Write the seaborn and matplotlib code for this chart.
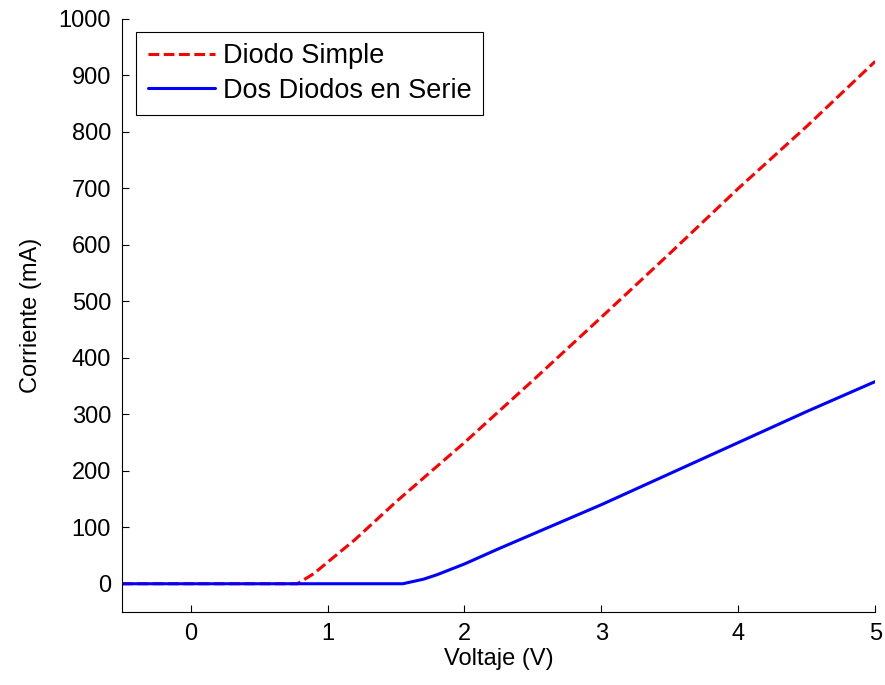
import seaborn as sns
import matplotlib.pyplot as plt
import pandas as pd

# datos
v_simple = [-0.5, 0.78, 0.9, 1.0, 1.2, 1.5, 2.0, 2.5, 3.0, 3.5, 4.0, 4.5, 5.0]
i_simple = [0, 0, 18, 38, 78, 145, 250, 360, 472, 585, 700, 810, 925]
v_serie = [-0.5, 1.55, 1.7, 1.8, 2.0, 2.25, 2.5, 3.0, 3.5, 4.0, 4.5, 5.0]
i_serie = [0, 0, 8, 16, 35, 62, 88, 140, 195, 250, 305, 358]
labels = ['Diodo Simple', 'Dos Diodos en Serie']

df = pd.concat([
    pd.DataFrame({'V': v_simple, 'I': i_simple, 'curva': labels[0]}),
    pd.DataFrame({'V': v_serie, 'I': i_serie, 'curva': labels[1]}),
])

sns.set_style('ticks')
plt.rcParams['font.family'] = ['Liberation Sans', 'DejaVu Sans']
plt.rcParams['font.size'] = 17
plt.rcParams['text.color'] = 'black'
plt.rcParams['axes.labelcolor'] = 'black'
plt.rcParams['xtick.color'] = 'black'
plt.rcParams['ytick.color'] = 'black'

fig = plt.figure(figsize=(8.85, 6.85), dpi=100)
ax = fig.add_axes([0.138, 0.1066, 0.851, 0.8657])
sns.lineplot(data=df, x='V', y='I', hue='curva', style='curva',
             palette=['#ff0000', '#0000ff'], dashes=[(3.5, 1.5), ''],
             linewidth=2.2, sort=False, estimator=None, ax=ax)

ax.set_xlim(-0.5, 5)
ax.set_ylim(-50, 1000)
ax.set_xticks([0, 1, 2, 3, 4, 5])
ax.set_yticks(range(0, 1001, 100))
ax.tick_params(direction='in', length=5, width=0.8, labelsize=17, pad=8)
for s in ['top', 'right']:
    ax.spines[s].set_visible(False)
for s in ['left', 'bottom']:
    ax.spines[s].set_linewidth(0.8)
    ax.spines[s].set_color('black')
ax.set_xlabel('Voltaje (V)', fontsize=17, labelpad=2)
ax.set_ylabel('Corriente (mA)', fontsize=17, labelpad=12)

leg = ax.legend(loc='upper left', bbox_to_anchor=(0.0186, 0.978), fontsize=19.5,
                fancybox=False, framealpha=1, edgecolor='black',
                borderaxespad=0, handlelength=2.5, handletextpad=0.3,
                borderpad=0.42, labelspacing=0.3)
leg.get_frame().set_linewidth(0.8)

fig.savefig('out.png', dpi=100)
